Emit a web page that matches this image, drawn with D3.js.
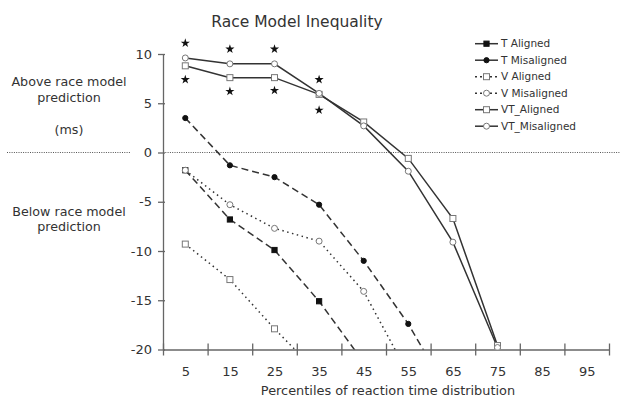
<!DOCTYPE html>
<html>
<head>
<meta charset="utf-8">
<script src="https://cdn.jsdelivr.net/npm/d3@7"></script>
<style>
  body { margin: 0; background: #fff; }
  svg { font-family: "DejaVu Sans", Verdana, sans-serif; }
</style>
</head>
<body>
<div id="chart"></div>
<script>
// percentiles of the RT distribution (x values)
const percentiles = [5, 15, 25, 35, 45, 55, 65, 75];
const xTickLabels = [5, 15, 25, 35, 45, 55, 65, 75, 85, 95];
const yTicks = [10, 5, 0, -5, -10, -15, -20];

// race model violation in ms (values below -20 run off the axis)
const tAligned = [-1.8, -6.8, -9.9, -15.1, -21.3];
const tMisaligned = [3.5, -1.3, -2.5, -5.3, -11.0, -17.4, -25.2];
const vAligned = [-9.3, -12.9, -17.9, -22.5];
const vMisaligned = [-1.8, -5.3, -7.7, -9.0, -14.1, -22.5];
const vtAligned = [8.8, 7.6, 7.6, 5.9, 3.1, -0.6, -6.7, -19.6];
const vtMisaligned = [9.6, 9.0, 9.0, 6.0, 2.7, -1.9, -9.1, -19.8];

// significance stars
const starPercentiles = [5, 15, 25, 35];
const starsAbove = [11.1, 10.5, 10.5, 7.4];
const starsBelow = [7.4, 6.2, 6.3, 4.3];

const series = [
  { name: 'T Aligned', values: tAligned, dash: '7,4', marker: 'square', filled: true },
  { name: 'T Misaligned', values: tMisaligned, dash: '7,4', marker: 'circle', filled: true },
  { name: 'V Aligned', values: vAligned, dash: '1.5,3.5', marker: 'square', filled: false },
  { name: 'V Misaligned', values: vMisaligned, dash: '1.5,3.5', marker: 'circle', filled: false },
  { name: 'VT_Aligned', values: vtAligned, dash: null, marker: 'square', filled: false },
  { name: 'VT_Misaligned', values: vtMisaligned, dash: null, marker: 'circle', filled: false }
];

const width = 622, height = 400;
const margin = { left: 163, right: 609, top: 54, bottom: 349.5 };

const x = d3.scaleLinear().domain([0, 100]).range([margin.left, margin.right]);
const y = d3.scaleLinear().domain([-20, 10]).range([margin.bottom, margin.top]);

const svg = d3.select('#chart').append('svg')
  .attr('width', width)
  .attr('height', height);

svg.append('defs').append('clipPath').attr('id', 'plot')
  .append('rect')
  .attr('x', margin.left).attr('y', 0)
  .attr('width', margin.right - margin.left + 10).attr('height', margin.bottom);

// title
svg.append('text')
  .attr('x', 297).attr('y', 26.5)
  .attr('text-anchor', 'middle')
  .style('font-size', '15.5px')
  .attr('fill', '#333')
  .text('Race Model Inequality');

// left side labels
const sideLabels = [
  ['Above race model', 86], ['prediction', 101.5], ['(ms)', 133.5],
  ['Below race model', 215.5], ['prediction', 231]
];
svg.selectAll('.side').data(sideLabels).enter().append('text')
  .attr('class', 'side')
  .attr('x', 69).attr('y', d => d[1])
  .attr('text-anchor', 'middle')
  .style('font-size', '12.7px')
  .attr('fill', '#333')
  .text(d => d[0]);

// dotted zero line
svg.append('line')
  .attr('x1', 7).attr('x2', 130).attr('y1', y(0)).attr('y2', y(0))
  .attr('stroke', '#555').attr('stroke-dasharray', '1,1.3');
svg.append('line')
  .attr('x1', margin.left).attr('x2', 620).attr('y1', y(0)).attr('y2', y(0))
  .attr('stroke', '#555').attr('stroke-dasharray', '1,1.3');

// y axis
const yAxis = svg.append('g')
  .attr('transform', 'translate(' + margin.left + ',0)')
  .call(d3.axisLeft(y).tickValues(yTicks).tickFormat(d => String(d))
    .tickSizeInner(5).tickSizeOuter(0).tickPadding(6));
yAxis.select('.domain').attr('stroke', '#666').attr('stroke-width', 1.3);
yAxis.selectAll('.tick line').attr('x1', 2).attr('stroke', '#666').attr('stroke-width', 1.3);
yAxis.selectAll('.tick text').style('font-size', '13px').attr('fill', '#333')
  .style('font-family', '"DejaVu Sans", Verdana, sans-serif');

// x axis
const xAxis = svg.append('g')
  .attr('transform', 'translate(0,' + margin.bottom + ')')
  .call(d3.axisBottom(x).tickValues(d3.range(0, 101, 10)).tickSizeInner(6).tickSizeOuter(0).tickFormat(''));
xAxis.select('.domain').attr('stroke', '#666').attr('stroke-width', 1.3);
xAxis.selectAll('.tick line').attr('y1', -6).attr('stroke', '#666').attr('stroke-width', 1.3);

const xLabels = svg.append('g')
  .attr('transform', 'translate(0,' + margin.bottom + ')')
  .call(d3.axisBottom(x).tickValues(xTickLabels).tickFormat(d => String(d))
    .tickSize(0).tickPadding(17));
xLabels.select('.domain').remove();
xLabels.selectAll('.tick text').style('font-size', '13px').attr('fill', '#333')
  .style('font-family', '"DejaVu Sans", Verdana, sans-serif');

svg.append('text')
  .attr('x', 388).attr('y', 395)
  .attr('text-anchor', 'middle')
  .style('font-size', '12.9px')
  .attr('fill', '#333')
  .text('Percentiles of reaction time distribution');

// lines
const line = d3.line()
  .x((d, i) => x(percentiles[i]))
  .y(d => y(d));

const plot = svg.append('g').attr('clip-path', 'url(#plot)');

plot.selectAll('.series').data(series).enter().append('path')
  .attr('class', 'series')
  .attr('d', d => line(d.values))
  .attr('fill', 'none')
  .attr('stroke', '#333')
  .attr('stroke-width', 1.5)
  .attr('stroke-dasharray', d => d.dash);

function drawMarker(g, s, cx, cy) {
  const fill = s.filled ? '#111' : '#fff';
  const stroke = s.filled ? '#111' : '#777';
  if (s.marker === 'square') {
    const h = s.filled ? 2.6 : 3;
    g.append('rect')
      .attr('x', cx - h).attr('y', cy - h)
      .attr('width', h * 2).attr('height', h * 2)
      .attr('fill', fill).attr('stroke', stroke).attr('stroke-width', 1);
  } else {
    g.append('circle')
      .attr('cx', cx).attr('cy', cy).attr('r', s.filled ? 2.6 : 3)
      .attr('fill', fill).attr('stroke', stroke).attr('stroke-width', 1);
  }
}

series.forEach(s => {
  s.values.forEach((v, i) => {
    if (v >= -20) drawMarker(plot, s, x(percentiles[i]), y(v));
  });
});

// stars
const star = d3.symbol().type(d3.symbolStar).size(26);
starPercentiles.forEach((p, i) => {
  [starsAbove[i], starsBelow[i]].forEach(v => {
    svg.append('path')
      .attr('d', star())
      .attr('transform', 'translate(' + x(p) + ',' + y(v) + ')')
      .attr('fill', '#111');
  });
});

// legend
const legend = svg.append('g');
series.forEach((s, i) => {
  const ly = 43.7 + i * 16.5;
  legend.append('line')
    .attr('x1', 475).attr('x2', 498).attr('y1', ly).attr('y2', ly)
    .attr('stroke', '#333').attr('stroke-width', 1.5)
    .attr('stroke-dasharray', s.dash ? (s.filled ? null : '2,3') : null);
  drawMarker(legend, s, 486.5, ly);
  legend.append('text')
    .attr('x', 501).attr('y', ly).attr('dy', '0.35em')
    .style('font-size', '10.5px')
    .attr('fill', '#333')
    .text(s.name);
});
</script>
</body>
</html>
